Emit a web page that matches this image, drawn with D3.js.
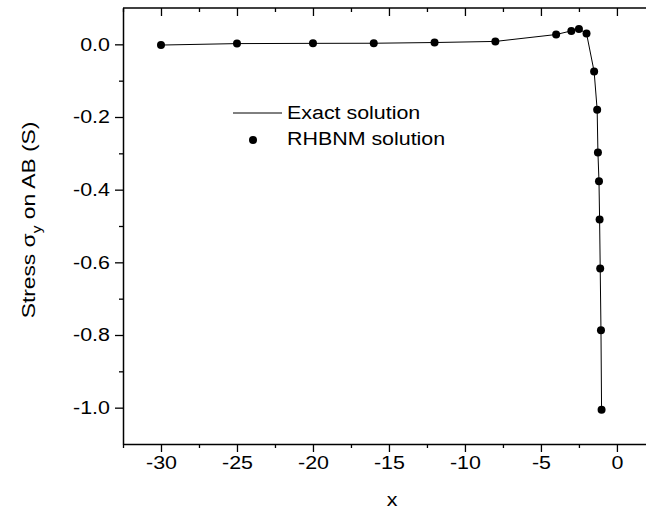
<!DOCTYPE html>
<html>
<head>
<meta charset="utf-8">
<script src="https://cdn.jsdelivr.net/npm/d3@7"></script>
<style>
  body { margin: 0; background: #fff; }
  svg { display: block; }
  text { font-family: "Liberation Sans", Arial, sans-serif; fill: #000; }
</style>
</head>
<body>
<svg id="viz"></svg>
<script>
var width = 646;
var height = 513;

// values
var xValues = [-30, -25, -20, -16, -12, -8, -4, -3, -2.5, -2, -1.5, -1.3, -1.25, -1.18, -1.14, -1.1, -1.05, -1.01];
var exactStress = [-0.002, 0.002, 0.0027, 0.003, 0.005, 0.008, 0.027, 0.037, 0.042, 0.030, -0.075, -0.180, -0.298, -0.377, -0.482, -0.617, -0.787, -1.006];
var rhbnmStress = [-0.002, 0.002, 0.0027, 0.003, 0.005, 0.008, 0.027, 0.037, 0.042, 0.030, -0.075, -0.180, -0.298, -0.377, -0.482, -0.617, -0.787, -1.006];

var xMajorTicks = [-30, -25, -20, -15, -10, -5, 0];
var xMinorTicks = [-32.5, -27.5, -22.5, -17.5, -12.5, -7.5, -2.5];
var yMajorTicks = [0.0, -0.2, -0.4, -0.6, -0.8, -1.0];
var yMinorTicks = [-0.1, -0.3, -0.5, -0.7, -0.9];

var legendLabels = ["Exact solution", "RHBNM solution"];

var stretch = 1.19; // the original font is wider than Arial
var fontSize = 18;

var margin = { left: 123, top: 8, bottom: 69 };
var plotRight = 661; // frame runs past the picture edge

var x = d3.scaleLinear().domain([-32.5, 2.9]).range([margin.left, plotRight]);
var y = d3.scaleLinear().domain([-1.1, 0.1]).range([height - margin.bottom, margin.top]);

var svg = d3.select("#viz").attr("width", width).attr("height", height);

// frame lines
svg.append("line")
    .attr("x1", margin.left).attr("x2", plotRight)
    .attr("y1", y.range()[1]).attr("y2", y.range()[1])
    .attr("stroke", "#000").attr("stroke-width", 1.5);

function styleAxis(g) {
    g.select(".domain").attr("stroke", "#000").attr("stroke-width", 1.5);
    g.selectAll(".tick line").attr("stroke", "#000").attr("stroke-width", 1.3);
}

// bottom axis
var xAxis = svg.append("g")
    .attr("transform", "translate(0," + y.range()[0] + ")")
    .call(d3.axisBottom(x).tickValues(xMajorTicks).tickSize(8).tickSizeOuter(0).tickPadding(4));
styleAxis(xAxis);
xAxis.selectAll(".tick text")
    .attr("font-size", fontSize)
    .attr("font-family", "Liberation Sans, Arial, sans-serif")
    .attr("transform", "scale(" + stretch + ",1)")
    .text(function (d) { return d3.format("d")(d).replace("−", "-"); });
svg.append("g")
    .attr("transform", "translate(0," + y.range()[0] + ")")
    .call(d3.axisBottom(x).tickValues(xMinorTicks).tickSize(4).tickFormat(""))
    .call(function (g) { g.select(".domain").remove(); styleAxis(g); });

// top axis, ticks pointing inward
svg.append("g")
    .attr("transform", "translate(0," + y.range()[1] + ")")
    .call(d3.axisBottom(x).tickValues(xMajorTicks).tickSize(8).tickFormat(""))
    .call(function (g) { g.select(".domain").remove(); styleAxis(g); });
svg.append("g")
    .attr("transform", "translate(0," + y.range()[1] + ")")
    .call(d3.axisBottom(x).tickValues(xMinorTicks).tickSize(4).tickFormat(""))
    .call(function (g) { g.select(".domain").remove(); styleAxis(g); });

// left axis
var yAxis = svg.append("g")
    .attr("transform", "translate(" + margin.left + ",0)")
    .call(d3.axisLeft(y).tickValues(yMajorTicks).tickSize(8).tickSizeOuter(0).tickPadding(3));
styleAxis(yAxis);
yAxis.selectAll(".tick text")
    .attr("font-size", fontSize)
    .attr("font-family", "Liberation Sans, Arial, sans-serif")
    .attr("transform", "scale(" + stretch + ",1)")
    .text(function (d) { return d3.format(".1f")(d).replace("−", "-"); });
svg.append("g")
    .attr("transform", "translate(" + margin.left + ",0)")
    .call(d3.axisLeft(y).tickValues(yMinorTicks).tickSize(4).tickFormat(""))
    .call(function (g) { g.select(".domain").remove(); styleAxis(g); });

// exact solution line
var line = d3.line()
    .x(function (d, i) { return x(xValues[i]); })
    .y(function (d) { return y(d); });

svg.append("path")
    .datum(exactStress)
    .attr("d", line)
    .attr("fill", "none")
    .attr("stroke", "#000")
    .attr("stroke-width", 1);

// RHBNM points
svg.append("g")
    .selectAll("circle")
    .data(rhbnmStress)
    .enter()
    .append("circle")
    .attr("cx", function (d, i) { return x(xValues[i]); })
    .attr("cy", function (d) { return y(d); })
    .attr("r", 4)
    .attr("fill", "#000");

// legend
var legend = svg.append("g").attr("transform", "translate(233,113)");
legend.append("line")
    .attr("x1", 0).attr("x2", 49).attr("y1", 0).attr("y2", 0)
    .attr("stroke", "#000").attr("stroke-width", 1);
legend.append("circle")
    .attr("cx", 20).attr("cy", 27).attr("r", 4).attr("fill", "#000");
legend.selectAll("text.lab")
    .data(legendLabels)
    .enter()
    .append("text")
    .attr("class", "lab")
    .attr("font-size", fontSize)
    .attr("transform", function (d, i) {
        return "translate(54," + (6 + i * 26) + ") scale(" + stretch + ",1)";
    })
    .text(function (d) { return d; });

// axis titles
svg.append("text")
    .attr("font-size", fontSize)
    .attr("text-anchor", "middle")
    .attr("transform", "translate(" + ((margin.left + plotRight) / 2) + ",506) scale(" + stretch + ",1)")
    .text("x");

var yTitle = svg.append("text")
    .attr("font-size", 19)
    .attr("text-anchor", "middle")
    .attr("transform", "translate(35,220) rotate(-90) scale(1.2,1)");
yTitle.append("tspan").text("Stress ");
yTitle.append("tspan").text("σ");
yTitle.append("tspan").attr("font-size", 13).attr("dy", 6).text("y");
yTitle.append("tspan").attr("dy", -6).text(" on AB (S)");
</script>
</body>
</html>
